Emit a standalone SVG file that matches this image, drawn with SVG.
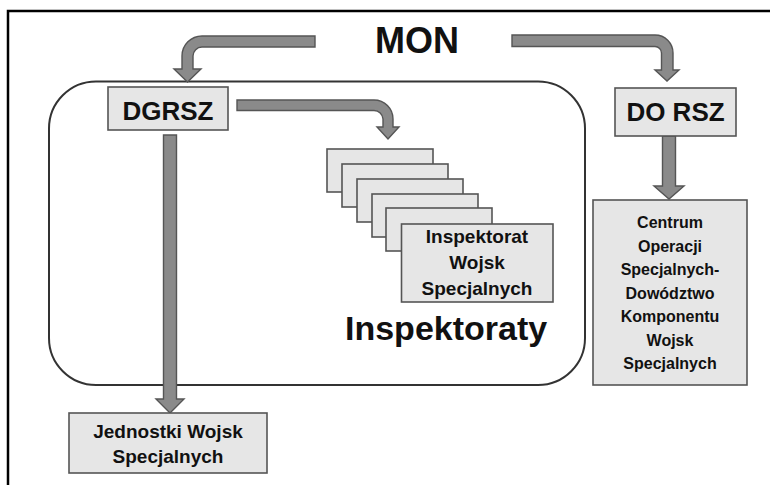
<svg xmlns="http://www.w3.org/2000/svg" width="770" height="485" viewBox="0 0 770 485">
  <style>
    .frame { fill: none; stroke: #000; stroke-width: 2.5; }
    .group-outline { fill: none; stroke: #333; stroke-width: 2; }
    .box { fill: #e6e6e6; stroke: #555; stroke-width: 1.6; }
    .arrow { fill: #8a8a8a; stroke: #555; stroke-width: 1.4; stroke-linejoin: miter; }
    text { font-family: "Liberation Sans", Arial, sans-serif; font-weight: bold; fill: #111; text-anchor: middle; }
    .title { font-size: 36px; }
    .head { font-size: 26px; }
    .small { font-size: 19px; }
    .tiny { font-size: 16px; }
  </style>

  <!-- outer frame -->
  <path class="frame" d="M8,486 L8,11 L771,11"/>

  <!-- rounded container around DGRSZ and inspectorates -->
  <rect class="group-outline" x="49" y="81.5" width="536" height="303.5" rx="47" ry="47"/>

  <!-- connectors -->
  <g id="connectors">
    <!-- MON -> DGRSZ -->
    <path class="arrow" d="M315,36 L202,36 A20,20 0 0 0 182,56 L182,69 L174,69 L187.5,82 L201,69 L193,69 L193,56 A9,9 0 0 1 202,47 L315,47 Z"/>
    <!-- MON -> DO RSZ -->
    <path class="arrow" d="M512,35 L655,35 A18,18 0 0 1 673,53 L673,70 L679,70 L667,81 L655,70 L661.5,70 L661.5,53 A6.5,6.5 0 0 0 655,46.5 L512,46.5 Z"/>
    <!-- DGRSZ -> Inspektoraty -->
    <path class="arrow" d="M237,100 L374,100 A19,19 0 0 1 393,119 L393,127 L399,127 L388,139 L377,127 L383,127 L383,119 A9,9 0 0 0 374,110.5 L237,110.5 Z"/>
    <!-- DGRSZ -> Jednostki Wojsk Specjalnych -->
    <path class="arrow" d="M163.5,135 L176.5,135 L176.5,399 L184,399 L170,413 L156,399 L163.5,399 Z"/>
    <!-- DO RSZ -> Centrum Operacji -->
    <path class="arrow" d="M662.5,136 L675.5,136 L675.5,186 L684,186 L669,199 L654,186 L662.5,186 Z"/>
  </g>

  <g id="mon">
    <text class="title" x="417" y="53">MON</text>
  </g>

  <g id="dgrsz">
    <rect class="box" x="108" y="87" width="120" height="43"/>
    <text class="head" x="168" y="120">DGRSZ</text>
  </g>

  <g id="dorsz">
    <rect class="box" x="615" y="88" width="121" height="48"/>
    <text class="head" x="675.5" y="121" font-size="24.5">DO RSZ</text>
  </g>

  <g id="inspektoraty">
    <rect class="box" x="327" y="149" width="106" height="43"/>
    <rect class="box" x="342" y="164" width="106" height="43"/>
    <rect class="box" x="357" y="179" width="106" height="43"/>
    <rect class="box" x="372" y="194" width="106" height="43"/>
    <rect class="box" x="386" y="208" width="106" height="43"/>
    <rect class="box" x="401.5" y="224" width="151.5" height="78"/>
    <text class="small" x="477" y="243">Inspektorat</text>
    <text class="small" x="477" y="269">Wojsk</text>
    <text class="small" x="477" y="295">Specjalnych</text>
    <text x="345" y="340" style="font-size:34px;text-anchor:start">Inspektoraty</text>
  </g>

  <g id="centrum">
    <rect class="box" x="593" y="200" width="154" height="185"/>
    <text class="tiny" x="670" y="228">Centrum</text>
    <text class="tiny" x="670" y="251.5">Operacji</text>
    <text class="tiny" x="670" y="275">Specjalnych-</text>
    <text class="tiny" x="670" y="298.5">Dowództwo</text>
    <text class="tiny" x="670" y="322">Komponentu</text>
    <text class="tiny" x="670" y="345.5">Wojsk</text>
    <text class="tiny" x="670" y="369">Specjalnych</text>
  </g>

  <g id="jednostki">
    <rect class="box" x="69" y="413" width="198" height="60"/>
    <text class="small" x="168" y="437.5">Jednostki Wojsk</text>
    <text class="small" x="168" y="463">Specjalnych</text>
  </g>
</svg>
